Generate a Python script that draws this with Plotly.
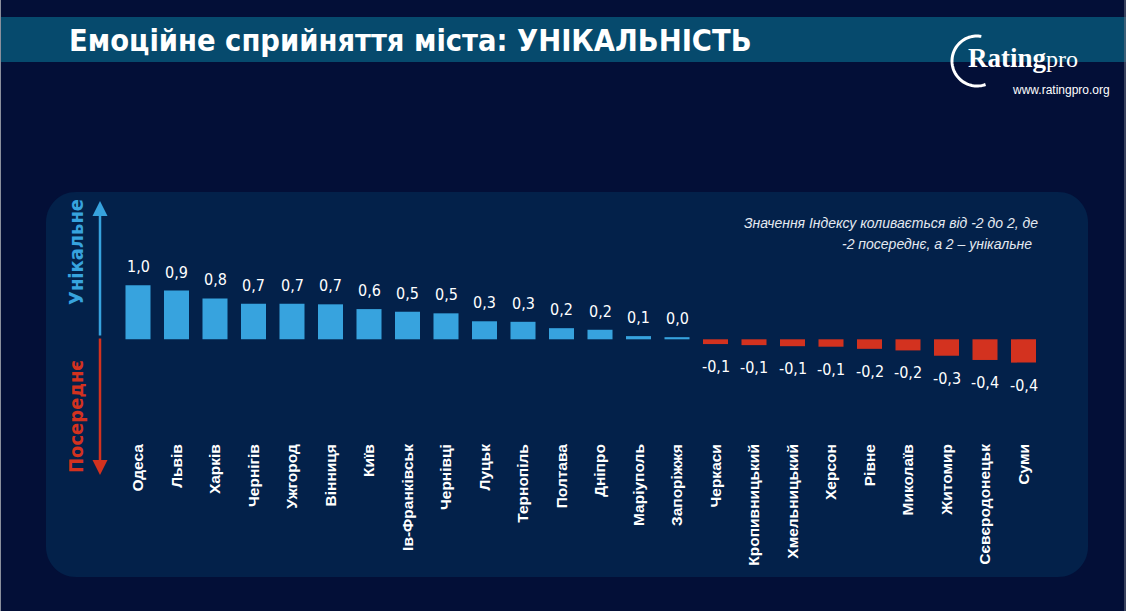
import numpy as np
import plotly.graph_objects as go

W, H = 1126, 611

cities = ["Одеса", "Львів", "Харків", "Чернігів", "Ужгород", "Вінниця", "Київ",
          "Ів-Франківськ", "Чернівці", "Луцьк", "Тернопіль", "Полтава", "Дніпро",
          "Маріуполь", "Запоріжжя", "Черкаси", "Кропивницький", "Хмельницький",
          "Херсон", "Рівне", "Миколаїв", "Житомир", "Сєвєродонецьк", "Суми"]
index_values = [1.02, 0.92, 0.77, 0.67, 0.67, 0.66, 0.57, 0.52, 0.49, 0.34, 0.33,
                0.21, 0.18, 0.06, 0.04, -0.09, -0.11, -0.13, -0.14, -0.18, -0.21,
                -0.31, -0.39, -0.44]

title_text = "Емоційне сприйняття міста: УНІКАЛЬНІСТЬ"
note_line1 = "Значення Індексу коливається від -2 до 2, де"
note_line2 = "-2 посереднє, а 2 – унікальне"
up_label = "Унікальне"
down_label = "Посереднє"

BG = "#030f37"
BAND = "#064a6d"
PANEL = "#03214a"
BLUE = "#37a3de"
RED = "#d3321f"
NARROW = "Liberation Sans Narrow, Arial Narrow, DejaVu Sans Condensed, sans-serif"
SANS = "Liberation Sans, Arial, sans-serif"


def X(px):
    return px / W


def Y(py):
    return 1 - py / H


def fmt(v):
    return f"{v:.1f}".replace(".", ",")


colors = [BLUE if v >= 0 else RED for v in index_values]

fig = go.Figure(go.Bar(
    x=cities, y=index_values, marker=dict(color=colors, line=dict(width=0)),
    width=0.65, hoverinfo="x+y",
))

annotations = []
for c, v in zip(cities, index_values):
    annotations.append(dict(
        x=c, y=v, xref="x", yref="y", text=fmt(v), showarrow=False,
        yanchor="bottom" if v >= 0 else "top",
        yshift=7 if v >= 0 else -11,
        font=dict(family=NARROW, size=16, color="white"),
    ))

# title
annotations.append(dict(x=X(67), y=Y(40), xref="paper", yref="paper", xanchor="left",
                        yanchor="middle", showarrow=False, text=f"<b>{title_text}</b>",
                        font=dict(family=NARROW, size=30.5, color="white")))
# note
annotations.append(dict(x=X(1040), y=Y(223), xref="paper", yref="paper", xanchor="right",
                        yanchor="middle", showarrow=False, text=f"<i>{note_line1}</i>",
                        font=dict(family=SANS, size=14, color="#e4e9f1")))
annotations.append(dict(x=X(1034), y=Y(244), xref="paper", yref="paper", xanchor="right",
                        yanchor="middle", showarrow=False, text=f"<i>{note_line2}</i>",
                        font=dict(family=SANS, size=14, color="#e4e9f1")))
# vertical labels
annotations.append(dict(x=X(76), y=Y(252), xref="paper", yref="paper", xanchor="center",
                        yanchor="middle", showarrow=False, textangle=-90,
                        text=f"<b>{up_label}</b>",
                        font=dict(family=NARROW, size=20, color=BLUE)))
annotations.append(dict(x=X(76), y=Y(417), xref="paper", yref="paper", xanchor="center",
                        yanchor="middle", showarrow=False, textangle=-90,
                        text=f"<b>{down_label}</b>",
                        font=dict(family=NARROW, size=20, color=RED)))
# arrows
annotations.append(dict(x=X(100), y=Y(201), xref="paper", yref="paper", ax=0, ay=136,
                        text="", showarrow=True, arrowhead=2, arrowsize=1.2,
                        arrowwidth=2.5, arrowcolor=BLUE))
annotations.append(dict(x=X(100), y=Y(475), xref="paper", yref="paper", ax=0, ay=-138,
                        text="", showarrow=True, arrowhead=2, arrowsize=1.2,
                        arrowwidth=2.5, arrowcolor=RED))
# logo text
annotations.append(dict(x=X(966), y=Y(58), xref="paper", yref="paper", xanchor="left",
                        yanchor="middle", showarrow=False,
                        text="<b>Rating</b><span style='font-size:24px'>pro</span>",
                        font=dict(family="Liberation Serif, DejaVu Serif, serif", size=27,
                                  color="white")))
annotations.append(dict(x=X(1112), y=Y(90), xref="paper", yref="paper", xanchor="right",
                        yanchor="middle", showarrow=False, text="www.ratingpro.org",
                        font=dict(family=SANS, size=12, color="white")))


def rounded_rect(x0, y0, x1, y1, r):
    k = 0.5523 * r
    pts = [
        f"M {X(x0 + r)} {Y(y0)}",
        f"L {X(x1 - r)} {Y(y0)}",
        f"C {X(x1 - r + k)} {Y(y0)} {X(x1)} {Y(y0 + r - k)} {X(x1)} {Y(y0 + r)}",
        f"L {X(x1)} {Y(y1 - r)}",
        f"C {X(x1)} {Y(y1 - r + k)} {X(x1 - r + k)} {Y(y1)} {X(x1 - r)} {Y(y1)}",
        f"L {X(x0 + r)} {Y(y1)}",
        f"C {X(x0 + r - k)} {Y(y1)} {X(x0)} {Y(y1 - r + k)} {X(x0)} {Y(y1 - r)}",
        f"L {X(x0)} {Y(y0 + r)}",
        f"C {X(x0)} {Y(y0 + r - k)} {X(x0 + r - k)} {Y(y0)} {X(x0 + r)} {Y(y0)}",
        "Z",
    ]
    return " ".join(pts)


# logo arc
cx, cy, rr = 977, 61, 25
angs = np.deg2rad(np.linspace(80, 290, 60))
arc = "M " + " L ".join(f"{X(cx + rr * np.cos(a))} {Y(cy - rr * np.sin(a))}" for a in angs)

shapes = [
    dict(type="rect", xref="paper", yref="paper", x0=0, x1=1, y0=Y(62), y1=Y(17),
         fillcolor=BAND, line=dict(width=0), layer="below"),
    dict(type="path", xref="paper", yref="paper", path=rounded_rect(46, 192, 1088, 577, 30),
         fillcolor=PANEL, line=dict(width=0), layer="below"),
    dict(type="path", xref="paper", yref="paper", path=arc,
         line=dict(color="white", width=3), layer="above"),
    dict(type="line", xref="paper", yref="paper", x0=X(0.5), x1=X(0.5), y0=0, y1=1,
         line=dict(color="#8a8f9c", width=1)),
    dict(type="line", xref="paper", yref="paper", x0=X(1125), x1=X(1125), y0=0, y1=1,
         line=dict(color="#6f7583", width=1)),
]

y_bottom_px, y_top_px, zero_px, scale = 440, 200, 339.3, 53.0

fig.update_layout(
    width=W, height=H, margin=dict(l=0, r=0, t=0, b=0),
    paper_bgcolor=BG, plot_bgcolor="rgba(0,0,0,0)",
    showlegend=False, bargap=0.35,
    xaxis=dict(domain=[X(118.75), X(1042.75)], showgrid=False, zeroline=False,
               showline=False, ticks="", tickangle=-90,
               tickfont=dict(family=SANS, size=15.5, color="white"),
               range=[-0.5, len(cities) - 0.5], fixedrange=True),
    yaxis=dict(domain=[Y(y_bottom_px), Y(y_top_px)], visible=False,
               range=[-(y_bottom_px - zero_px) / scale, (zero_px - y_top_px) / scale],
               fixedrange=True),
    annotations=annotations, shapes=shapes,
)
# bold tick labels
fig.update_xaxes(tickvals=cities, ticktext=[f"<b>{c}</b>" for c in cities])

fig.write_html(
    "out.html",
    config={"displayModeBar": False},
    post_script="document.body.style.margin='0';document.body.style.overflow='hidden';",
)
